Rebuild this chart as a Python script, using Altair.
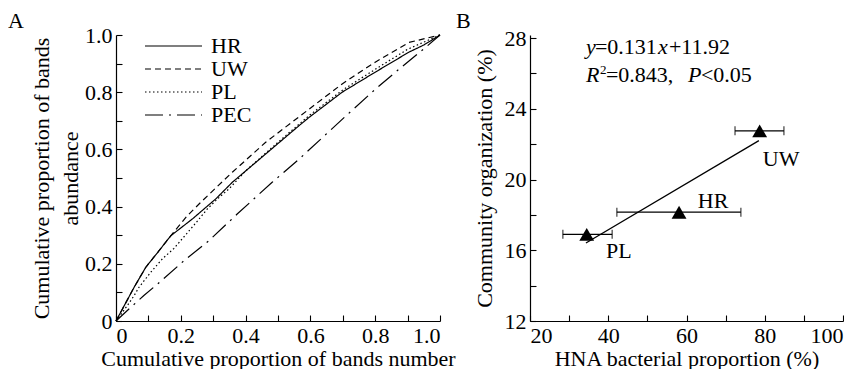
import altair as alt
import pandas as pd

FONT = "Liberation Serif"
FS = 22

# ---------------- Panel A data ----------------
series_names = ["HR", "UW", "PL", "PEC"]
hr_x = [0, 0.056, 0.092, 0.133, 0.169, 0.236, 0.308, 0.359, 0.462, 0.565, 0.596, 0.698, 0.80, 0.904, 0.95, 1.0]
hr_y = [0, 0.118, 0.188, 0.246, 0.298, 0.357, 0.427, 0.485, 0.584, 0.683, 0.712, 0.80, 0.87, 0.94, 0.965, 1.0]
uw_x = [0, 0.056, 0.092, 0.133, 0.169, 0.22, 0.266, 0.359, 0.462, 0.565, 0.698, 0.80, 0.904, 1.0]
uw_y = [0, 0.118, 0.188, 0.246, 0.298, 0.368, 0.42, 0.52, 0.625, 0.714, 0.829, 0.905, 0.974, 1.0]
pl_x = [0, 0.035, 0.056, 0.071, 0.107, 0.143, 0.179, 0.217, 0.248, 0.282, 0.318, 0.349, 0.40, 0.5, 0.6, 0.7, 0.8, 0.9, 1.0]
pl_y = [0, 0.054, 0.089, 0.118, 0.170, 0.217, 0.254, 0.304, 0.345, 0.392, 0.432, 0.462, 0.525, 0.625, 0.722, 0.808, 0.88, 0.95, 1.0]
pec_x = [0, 0.04, 0.086, 0.128, 0.21, 0.287, 0.374, 0.482, 0.565, 0.698, 0.80, 0.873, 0.956, 1.0]
pec_y = [0, 0.042, 0.089, 0.129, 0.211, 0.281, 0.374, 0.485, 0.566, 0.705, 0.81, 0.88, 0.957, 1.0]

a_ticks = [0, 0.2, 0.4, 0.6, 0.8, 1.0]
a_minor = [0, 0.1, 0.2, 0.3, 0.4, 0.5, 0.6, 0.7, 0.8, 0.9, 1.0]

# ---------------- Panel B data ----------------
sites = ["PL", "HR", "UW"]
hna = [34.5, 58.1, 78.7]
org = [16.9, 18.15, 22.75]
hna_lo = [28.4, 42.2, 72.4]
hna_hi = [41.0, 73.9, 84.9]
lab_x = [42.7, 66.8, 84.2]
lab_y = [15.96, 18.79, 21.16]
fit_x = [34.3, 78.5]
fit_y = [16.41, 22.2]
b_xticks = [20, 40, 60, 80, 100]
b_xminor = [20, 30, 40, 50, 60, 70, 80, 90, 100]
b_yticks = [12, 16, 20, 24, 28]
b_yminor = [12, 14, 16, 18, 20, 22, 24, 26, 28]

WA, HA = 324, 286
WB, HB = 313, 286

rows = []
for name, xs, ys in [("HR", hr_x, hr_y), ("UW", uw_x, uw_y), ("PL", pl_x, pl_y), ("PEC", pec_x, pec_y)]:
    for a, b in zip(xs, ys):
        rows.append({"series": name, "x": a, "y": b})
dfA = pd.DataFrame(rows)

xA = alt.Scale(domain=[0, 1], nice=False, zero=False)
yA = alt.Scale(domain=[0, 1], nice=False, zero=False)

lines = alt.Chart(dfA).mark_line(color="black", strokeWidth=1.2).encode(
    x=alt.X("x:Q", scale=xA, axis=alt.Axis(
        values=a_ticks, ticks=False, title="Cumulative proportion of bands number",
        labelExpr="datum.value == 0 ? '0' : format(datum.value, '.1f')",
        labelPadding=4, titlePadding=2)),
    y=alt.Y("y:Q", scale=yA, axis=alt.Axis(
        values=a_ticks, ticks=False,
        title=["Cumulative proportion of bands", "abundance"],
        titleLineHeight=29,
        labelExpr="datum.value == 0 ? '0' : format(datum.value, '.1f')",
        labelPadding=4, titlePadding=2)),
    strokeDash=alt.StrokeDash("series:N", scale=alt.Scale(
        domain=series_names,
        range=[[1, 0], [6, 4], [1.5, 2.5], [18, 6, 2, 6]]),
        legend=alt.Legend(orient="none", legendX=28, legendY=0, title=None,
                          symbolType="stroke", symbolSize=3249, symbolStrokeWidth=1.2,
                          symbolStrokeColor="black", labelFont=FONT, labelFontSize=FS,
                          labelColor="black", rowPadding=1, clipHeight=22,
                          labelOffset=8, padding=0)),
)

ticksA = alt.Chart(dfA).mark_point(opacity=0).encode(
    x=alt.X("x:Q", scale=xA, axis=alt.Axis(orient="top", offset=-HA, values=a_minor,
                                           labels=False, domain=False, tickSize=6, title=None)),
    y=alt.Y("y:Q", scale=yA, axis=alt.Axis(orient="right", offset=-WA, values=a_minor,
                                           labels=False, domain=False, tickSize=6, title=None)),
)

labA = alt.Chart(pd.DataFrame({"t": ["A"]})).mark_text(
    font=FONT, fontSize=FS, align="left", baseline="top", color="black"
).encode(text="t:N", x=alt.value(-108), y=alt.value(-24))

panelA = alt.layer(alt.layer(lines, labA), ticksA).resolve_axis(
    x="independent", y="independent").properties(width=WA, height=HA)

# ---------------- Panel B ----------------
dfB = pd.DataFrame({"site": sites, "hna": hna, "org": org, "lo": hna_lo, "hi": hna_hi,
                    "lx": lab_x, "ly": lab_y})
dfFit = pd.DataFrame({"x": fit_x, "y": fit_y})

xB = alt.Scale(domain=[20, 100], nice=False, zero=False)
yB = alt.Scale(domain=[12, 28.17], nice=False, zero=False)

def axbx():
    return alt.Axis(values=b_xticks, ticks=False, title="HNA bacterial proportion (%)",
                    labelPadding=4, titlePadding=2)

def axby():
    return alt.Axis(values=b_yticks, ticks=False, title="Community organization (%)",
                    labelPadding=4, titlePadding=8)

def XB(f):
    return alt.X(f, scale=xB, axis=axbx())

def YB(f):
    return alt.Y(f, scale=yB, axis=axby())

fit = alt.Chart(dfFit).mark_line(color="black", strokeWidth=1.3).encode(
    x=XB("x:Q"), y=YB("y:Q"))

ticksB = alt.Chart(dfFit).mark_point(opacity=0).encode(
    x=alt.X("x:Q", scale=xB, axis=alt.Axis(orient="top", offset=-HB, values=b_xminor,
                                           labels=False, domain=False, tickSize=6, title=None)),
    y=alt.Y("y:Q", scale=yB, axis=alt.Axis(orient="right", offset=-WB, values=b_yminor,
                                           labels=False, domain=False, tickSize=6, title=None)),
)

ebar = alt.Chart(dfB).mark_rule(color="black", strokeWidth=1.3).encode(
    x=XB("lo:Q"), x2="hi:Q", y=YB("org:Q"))
capL = alt.Chart(dfB).mark_tick(color="black", orient="vertical", size=9, thickness=1.3).encode(
    x=XB("lo:Q"), y=YB("org:Q"))
capR = alt.Chart(dfB).mark_tick(color="black", orient="vertical", size=9, thickness=1.3).encode(
    x=XB("hi:Q"), y=YB("org:Q"))
pts = alt.Chart(dfB).mark_point(shape="triangle-up", filled=True, color="black", size=220,
                                opacity=1).encode(x=XB("hna:Q"), y=YB("org:Q"))
labs = alt.Chart(dfB).mark_text(font=FONT, fontSize=FS, color="black", baseline="middle").encode(
    x=XB("lx:Q"), y=YB("ly:Q"), text="site:N")

eq_x = [34.3]
eq1_y = [27.1]
eq2_y = [25.5]
dfEq1 = pd.DataFrame({"x": eq_x, "y": eq1_y})
dfEq2 = pd.DataFrame({"x": eq_x, "y": eq2_y})

def seg(df, text, dx, italic=False, size=FS, dy=0):
    return alt.Chart(df).mark_text(
        font=FONT, fontSize=size, fontStyle="italic" if italic else "normal",
        align="left", baseline="alphabetic", color="black", dx=dx, dy=dy, text=text
    ).encode(x=XB("x:Q"), y=YB("y:Q"))

eq_layers = [
    seg(dfEq1, "y", 0, True),
    seg(dfEq1, "=0.131", 9),
    seg(dfEq1, "x", 72, True),
    seg(dfEq1, "+11.92", 83),
    seg(dfEq2, "R", 0, True),
    seg(dfEq2, "2", 14, size=13, dy=-8),
    seg(dfEq2, "=0.843,", 20),
    seg(dfEq2, "P", 102, True),
    seg(dfEq2, "<0.05", 115),
]

labB = alt.Chart(pd.DataFrame({"t": ["B"]})).mark_text(
    font=FONT, fontSize=FS, align="left", baseline="top", color="black"
).encode(text="t:N", x=alt.value(-74), y=alt.value(-24))

panelB = alt.layer(alt.layer(fit, ebar, capL, capR, pts, labs, *eq_layers, labB), ticksB).resolve_axis(
    x="independent", y="independent").properties(width=WB, height=HB)

chart = alt.hconcat(panelA, panelB, spacing=0).properties(
    padding={"left": 0, "top": 2, "right": 0, "bottom": 0},
    background="white",
).configure_axis(
    labelFont=FONT, titleFont=FONT, labelFontSize=FS, titleFontSize=FS,
    titleFontWeight="normal", labelColor="black", titleColor="black",
    domainColor="black", tickColor="black", grid=False, domainWidth=1.2, tickWidth=1.1,
).configure_view(stroke=None)

chart.save("out.html", embed_options={"renderer": "svg", "actions": False})
